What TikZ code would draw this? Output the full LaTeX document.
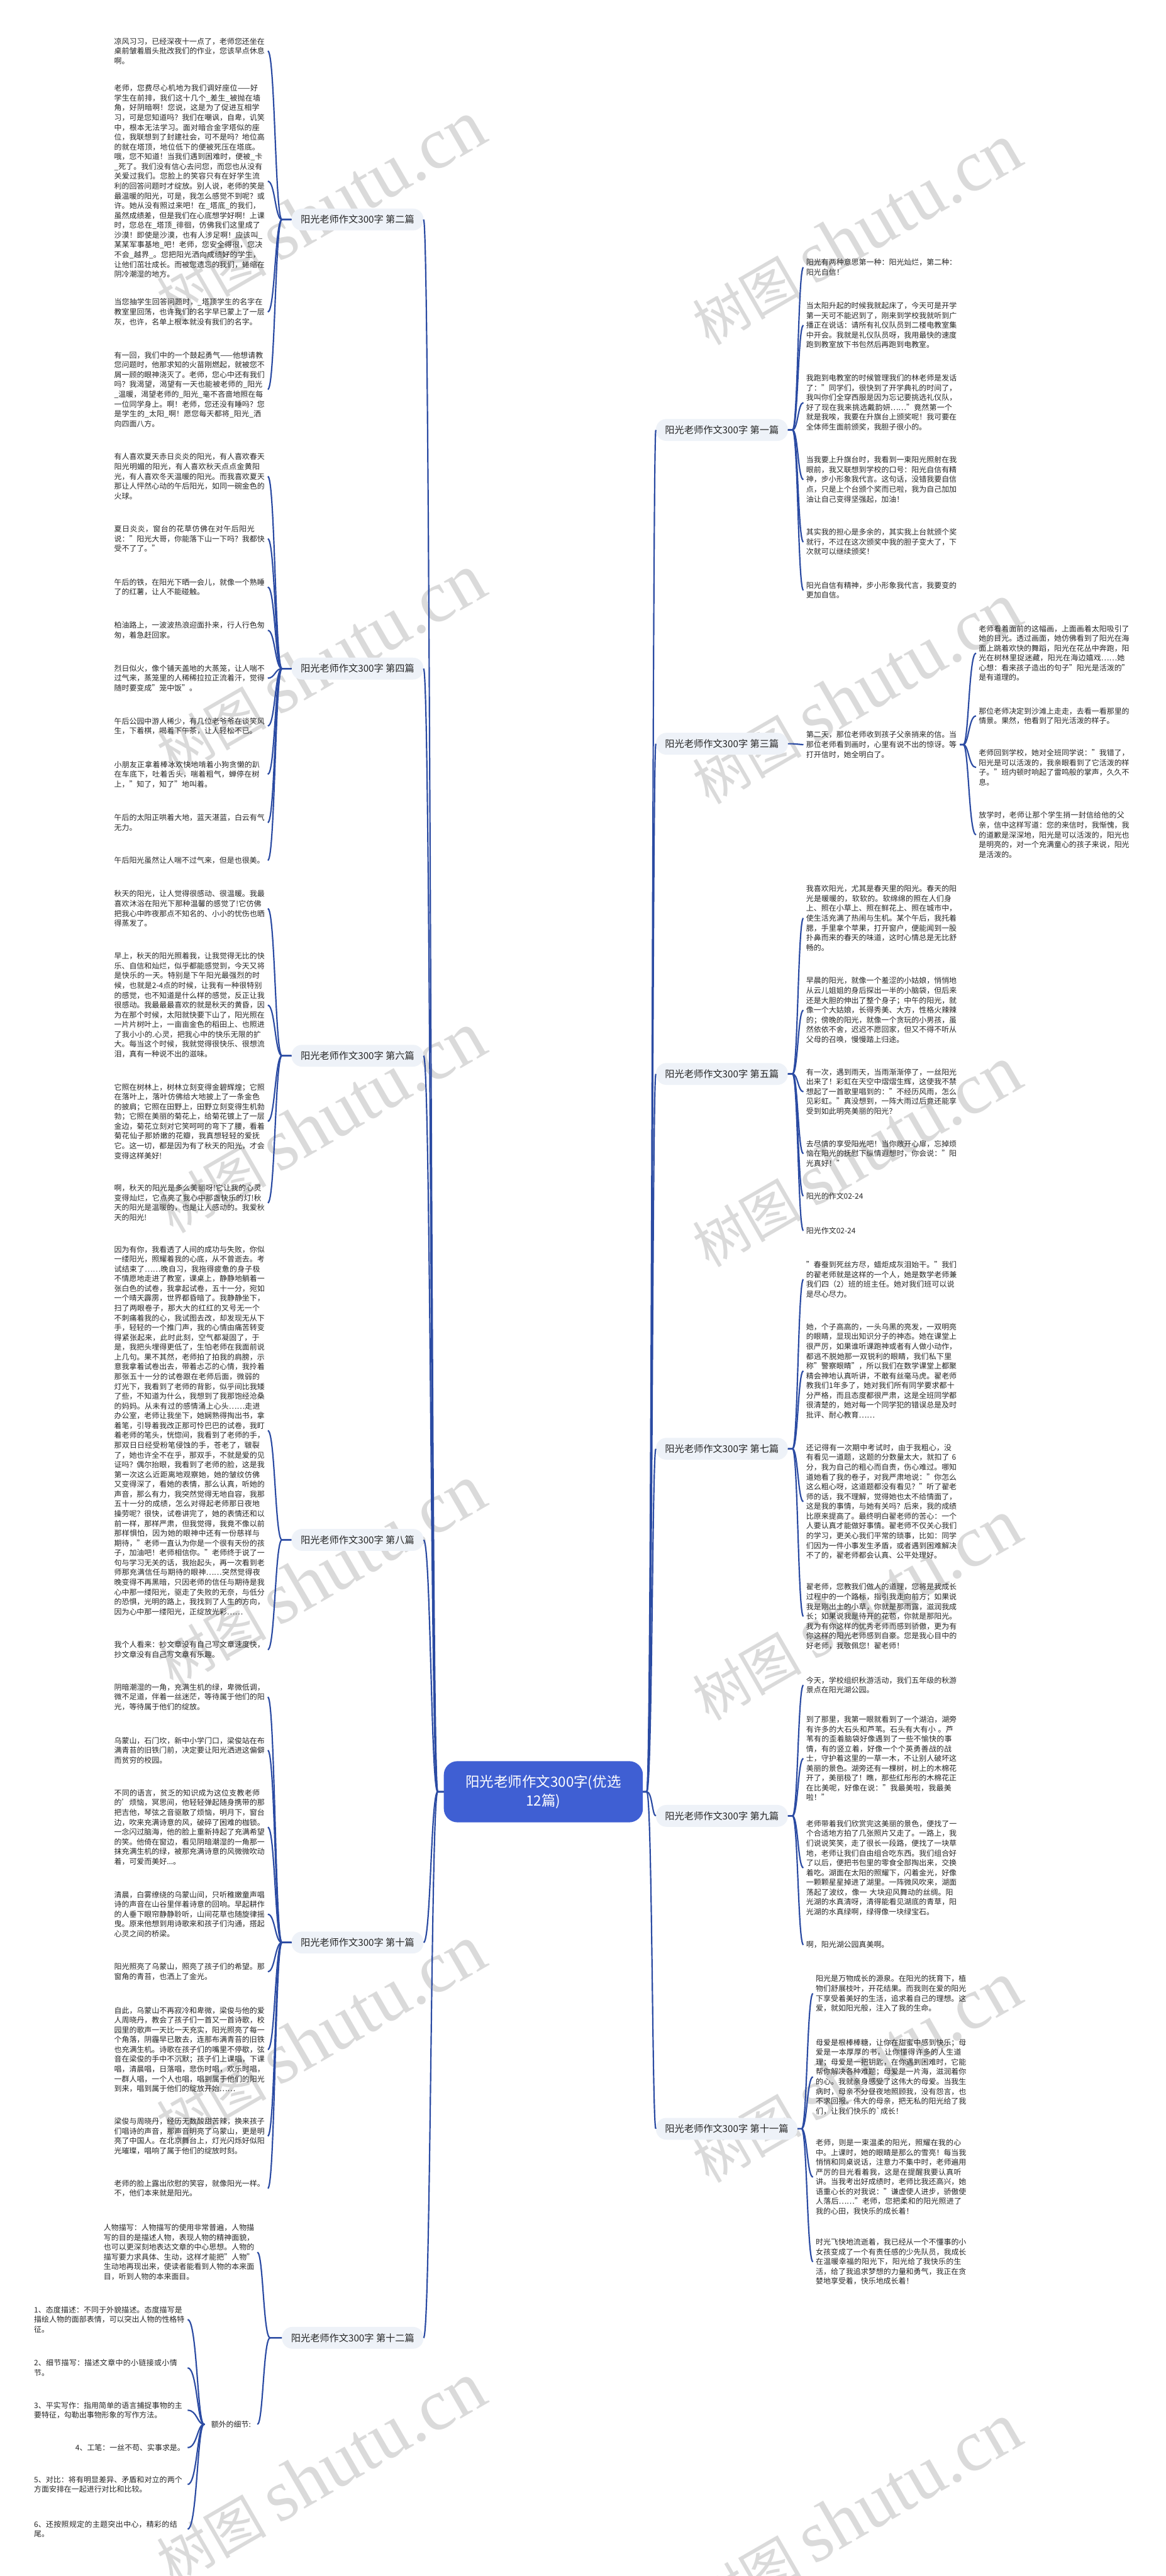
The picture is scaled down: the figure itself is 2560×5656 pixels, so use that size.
\documentclass[tikz,border=0pt]{standalone}
\usepackage{fontspec}
\setmainfont{Noto Sans CJK SC}
\newfontfamily\wmlat{Liberation Serif}
\usetikzlibrary{calc}
\XeTeXlinebreaklocale "zh"
\XeTeXlinebreakskip=0pt plus 1pt
\definecolor{cline}{HTML}{2B4BA3}
\definecolor{cfill}{HTML}{3F5FD3}
\definecolor{lfill}{HTML}{EEF2F8}
\definecolor{wmc}{HTML}{DADADA}
\definecolor{txt}{HTML}{262626}
\newcommand\ctext{\fontsize{16.5}{21.5}\selectfont}
\newcommand\ltext{\fontsize{21}{26}\selectfont}
\newcommand\mtext{\fontsize{31}{42}\selectfont}
\newcommand\wtext{\fontsize{120}{125}\selectfont}
\newcommand\wltext{\fontsize{160}{165}\selectfont}
\tikzset{
  conn/.style={draw=cline, line width=3pt},
  lc/.style={anchor=east, text width=331pt, align=left, inner xsep=6pt, inner ysep=0pt, font=\ctext, text=txt},
  lcs/.style={anchor=east, align=left, inner xsep=6pt, inner ysep=0pt, font=\ctext, text=txt},
  rc/.style={anchor=west, text width=331pt, align=left, inner xsep=6pt, inner ysep=0pt, font=\ctext, text=txt},
  rcs/.style={anchor=west, align=left, inner xsep=6pt, inner ysep=0pt, font=\ctext, text=txt},
  blab/.style={fill=lfill, rounded corners=23pt, minimum height=48pt, inner xsep=20pt, font=\ltext, text=txt},
  lblab/.style={blab, anchor=east},
  rblab/.style={blab, anchor=west},
  cnode/.style={fill=cfill, rounded corners=30pt, inner xsep=48pt, inner ysep=30pt, font=\mtext, text=white, align=center},
  wmark/.style={text=wmc, rotate=30, font=\wtext, inner sep=0pt}
}
\newcommand\brL[3]{\draw[conn] (#1.west) -- ($(#3 |- #1.west)+(15,0)$) .. controls (#3 |- #1.west) and (#3 |- #2.east) .. (#2.east);}
\newcommand\brR[3]{\draw[conn] (#1.east) -- ($(#3 |- #1.east)+(-12,0)$) .. controls (#3 |- #1.east) and (#3 |- #2.west) .. (#2.west);}
\begin{document}
\begin{tikzpicture}[x=1pt,y=-1pt]
\useasboundingbox (0,0) rectangle (2560,5656);
\fill[white] (0,0) rectangle (2560,5656);
% watermarks
\foreach \wx/\wy [count=\i] in {704/465, 704/1460, 704/2465, 704/3460, 704/4470, 704/5430, 1880/515, 1880/1523, 1880/2540, 1880/3535, 1880/4550, 1880/5520}{
  \node[wmark] (wm\i) at (\wx,\wy) {树图 {\wmlat\wltext shutu.cn}};
}
% trunks
\coordinate (TL) at (604,0);
\coordinate (TL12) at (578,0);
\coordinate (TLs) at (433,0);
\coordinate (TR) at (1752,0);
\coordinate (TR11) at (1772,0);
\coordinate (TR3) at (2127,0);
\coordinate (TCL) at (946,0);
\coordinate (TCR) at (1432,0);
% center
\node[cnode] (C) at (1193,3934) {阳光老师作文300字(优选\\12篇)};
% branch labels
\node[lblab] (L2) at (930,482) {阳光老师作文300字 第二篇};
\node[lblab] (L4) at (930,1468) {阳光老师作文300字 第四篇};
\node[lblab] (L6) at (930,2318) {阳光老师作文300字 第六篇};
\node[lblab] (L8) at (930,3381) {阳光老师作文300字 第八篇};
\node[lblab] (L10) at (930,4265) {阳光老师作文300字 第十篇};
\node[lblab] (L12) at (930,5133) {阳光老师作文300字 第十二篇};
\node[rblab] (R1) at (1440,944) {阳光老师作文300字 第一篇};
\node[rblab] (R3) at (1440,1633) {阳光老师作文300字 第三篇};
\node[rblab] (R5) at (1440,2358) {阳光老师作文300字 第五篇};
\node[rblab] (R7) at (1440,3181) {阳光老师作文300字 第七篇};
\node[rblab] (R9) at (1440,3987) {阳光老师作文300字 第九篇};
\node[rblab] (R11) at (1440,4674) {阳光老师作文300字 第十一篇};
% ---------- left children
\node[lc] (l2a) at (588,112) {凉风习习，已经深夜十一点了，老师您还坐在桌前皱着眉头批改我们的作业，您该早点休息啊。};
\node[lc] (l2b) at (588,398) {老师，您费尽心机地为我们调好座位——好学生在前排，我们这十几个\_差生\_被抛在墙角，好阴暗啊！您说，这是为了促进互相学习，可是您知道吗？我们在嘲讽，自卑，讥笑中，根本无法学习。面对暗合金字塔似的座位，我联想到了封建社会，可不是吗？地位高的就在塔顶，地位低下的便被死压在塔底。哦，您不知道！当我们遇到困难时，便被\_卡\_死了。我们没有信心去问您，而您也从没有关爱过我们。您脸上的笑容只有在好学生流利的回答问题时才绽放。别人说，老师的笑是最温暖的阳光，可是，我怎么感觉不到呢？或许。她从没有照过来吧！在\_塔底\_的我们，虽然成绩差，但是我们在心底想学好啊！上课时，您总在\_塔顶\_徘徊，仿佛我们这里成了沙漠！即使是沙漠，也有人涉足啊！应该叫\_某某军事基地\_吧！老师，您安全得很，您决不会\_越界\_。您把阳光洒向成绩好的学生，让他们茁壮成长。而被您遗忘的我们，蜷缩在阴冷潮湿的地方。};
\node[lc] (l2c) at (588,685) {当您抽学生回答问题时，\_塔顶学生的名字在教室里回荡，也许我们的名字早已蒙上了一层灰，也许，名单上根本就没有我们的名字。};
\node[lc] (l2d) at (588,855) {有一回，我们中的一个鼓起勇气——他想请教您问题时，他那求知的火苗刚燃起，就被您不屑一顾的眼神浇灭了。老师，您心中还有我们吗？我渴望，渴望有一天也能被老师的\_阳光\_温暖，渴望老师的\_阳光\_毫不吝啬地照在每一位同学身上。啊！老师，您还没有睡吗？您是学生的\_太阳\_啊！愿您每天都将\_阳光\_洒向四面八方。};
\node[lc] (l4a) at (588,1046) {有人喜欢夏天赤日炎炎的阳光，有人喜欢春天阳光明媚的阳光，有人喜欢秋天点点金黄阳光，有人喜欢冬天温暖的阳光。而我喜欢夏天那让人怦然心动的午后阳光，如同一碗金色的火球。};
\node[lc] (l4b) at (588,1183) {夏日炎炎，窗台的花草仿佛在对午后阳光说："阳光大哥，你能落下山一下吗？我都快受不了了。"};
\node[lc] (l4c) at (588,1289) {午后的铁，在阳光下晒一会儿，就像一个熟睡了的红薯，让人不能碰触。};
\node[lc] (l4d) at (588,1384) {柏油路上，一波波热浪迎面扑来，行人行色匆匆，着急赶回家。};
\node[lc] (l4e) at (588,1489) {烈日似火，像个铺天盖地的大蒸笼，让人喘不过气来，蒸笼里的人稀稀拉拉正流着汗，觉得随时要变成"笼中饭"。};
\node[lc] (l4f) at (588,1594) {午后公园中游人稀少，有几位老爷爷在谈笑风生，下着棋，喝着下午茶，让人轻松不已。};
\node[lc] (l4g) at (588,1700) {小朋友正拿着棒冰欢快地啃着小狗贪懒的趴在车底下，吐着舌头，喘着粗气，蝉停在树上，"知了，知了"地叫着。};
\node[lc] (l4h) at (588,1806) {午后的太阳正哄着大地，蓝天湛蓝，白云有气无力。};
\node[lc] (l4i) at (588,1889) {午后阳光虽然让人喘不过气来，但是也很美。};
\node[lc] (l6a) at (588,1995) {秋天的阳光，让人觉得很感动、很温暖。我最喜欢沐浴在阳光下那种温馨的感觉了!它仿佛把我心中昨夜那点不知名的、小小的忧伤也晒得蒸发了。};
\node[lc] (l6b) at (588,2207) {早上，秋天的阳光照着我，让我觉得无比的快乐、自信和灿烂，似乎都能感觉到，今天又将是快乐的一天。特别是下午阳光最强烈的时候，也就是2-4点的时候，让我有一种很特别的感觉，也不知道是什么样的感觉，反正让我很感动。我最最最喜欢的就是秋天的黄昏，因为在那个时候，太阳就快要下山了，阳光照在一片片树叶上，一亩亩金色的稻田上、也照进了我小小的.心灵，把我心中的快乐无限的扩大。每当这个时候，我就觉得很快乐、很想流泪，真有一种说不出的滋味。};
\node[lc] (l6c) at (588,2462) {它照在树林上，树林立刻变得金碧辉煌；它照在落叶上，落叶仿佛给大地披上了一条金色的披肩；它照在田野上，田野立刻变得生机勃勃；它照在美丽的菊花上，给菊花镀上了一层金边，菊花立刻对它笑呵呵的弯下了腰，看着菊花仙子那娇嫩的花瓣，我真想轻轻的爱抚它。这一切，都是因为有了秋天的阳光，才会变得这样美好!};
\node[lc] (l6d) at (588,2641) {啊，秋天的阳光是多么美丽呀!它让我的心灵变得灿烂，它点亮了我心中那盏快乐的灯!秋天的阳光是温暖的，也是让人感动的。我爱秋天的阳光!};
\node[lc] (l8a) at (588,3141) {因为有你，我看透了人间的成功与失败，你似一缕阳光，照耀着我的心底，从不曾逝去。考试结束了……晚自习，我拖得疲惫的身子极不情愿地走进了教室，课桌上，静静地躺着一张白色的试卷，我拿起试卷，五十一分，宛如一个晴天霹雳，世界都昏暗了。我静静坐下，扫了两眼卷子，那大大的红红的叉号无一个不刺痛着我的心，我试图去改，却发现无从下手，轻轻的一个推门声，我的心情由痛苦转变得紧张起来，此时此刻，空气都凝固了，于是，我把头埋得更低了，生怕老师在我面前说上几句。果不其然，老师拍了拍我的肩膀，示意我拿着试卷出去，带着忐忑的心情，我拎着那张五十一分的试卷跟在老师后面，微弱的灯光下，我看到了老师的背影，似乎间比我矮了些，不知道为什么，我想到了我那饱经沧桑的妈妈。从未有过的感情涌上心头……走进办公室，老师让我坐下，她娴熟得掏出书，拿着笔，引导着我改正那可怜巴巴的试卷，我盯着老师的笔头，恍惚间，我看到了老师的手，那双日日经受粉笔侵蚀的手，苍老了，皲裂了，她也许全不在乎，那双手，不就是爱的见证吗？偶尔抬眼，我看到了老师的脸，这是我第一次这么近距离地观察她，她的皱纹仿佛又变得深了，看她的表情，那么认真，听她的声音，那么有力，我突然觉得无地自容，我那五十一分的成绩，怎么对得起老师那日夜地操劳呢？很快，试卷讲完了，她的表情还和以前一样，那样严肃，但我觉得，我竟不像以前那样惧怕，因为她的眼神中还有一份慈祥与期待，"老师一直认为你是一个很有天份的孩子，加油吧！老师相信你。"老师终于说了一句与学习无关的话，我抬起头，再一次看到老师那充满信任与期待的眼神……突然觉得夜晚变得不再黑暗，只因老师的信任与期待是我心中那一缕阳光，驱走了失败的无奈，与低分的恐惧，光明的路上，我找到了人生的方向，因为心中那一缕阳光，正绽放光彩……};
\node[lc] (l8b) at (588,3622) {我个人看来：抄文章没有自己写文章速度快，抄文章没有自己写文章有乐趣。};
\node[lc] (l10a) at (588,3726) {阴暗潮湿的一角，充满生机的绿，卑微低调，微不足道，伴着一丝迷茫，等待属于他们的阳光，等待属于他们的绽放。};
\node[lc] (l10b) at (588,3843) {乌蒙山，石门坎，新中小学门口，梁俊站在布满青苔的旧铁门前，决定要让阳光洒进这偏僻而贫穷的校园。};
\node[lc] (l10c) at (588,4012) {不同的语言，贫乏的知识成为这位支教老师的'烦恼，冥思间，他轻轻弹起随身携带的那把吉他，琴弦之音驱散了烦恼，明月下，窗台边，吹来充满诗意的风，破碎了困难的枷锁。一念闪过脑海，他的脸上重新持起了充满希望的笑。他倚在窗边，看见阴暗潮湿的一角那一抹充满生机的绿，被那充满诗意的风微微吹动着，可爱而美好...。};
\node[lc] (l10d) at (588,4203) {清晨，白雾缭绕的乌蒙山间，只听稚嫩童声唱诗的声音在山谷里伴着诗意的回响。早起耕作的人垂下眼帘静静聆听，山间花草也随旋律摇曳。原来他想到用诗歌来和孩子们沟通，搭起心灵之间的桥梁。};
\node[lc] (l10e) at (588,4329) {阳光照亮了乌蒙山，照亮了孩子们的希望。那窗角的青苔，也洒上了金光。};
\node[lc] (l10f) at (588,4500) {自此，乌蒙山不再寂冷和卑微，梁俊与他的爱人周晓丹，教会了孩子们一首又一首诗歌，校园里的歌声一天比一天充实，阳光照亮了每一个角落，阴霾早已散去，连那布满青苔的旧铁也充满生机。诗歌在孩子们的嘴里不停歇，弦音在梁俊的手中不沉默；孩子们上课唱，下课唱，清晨唱，日落唱，悲伤时唱，欢乐时唱，一群人唱，一个人也唱，唱到属于他们的阳光到来，唱到属于他们的绽放开始……};
\node[lc] (l10g) at (588,4690) {梁俊与周晓丹，经历无数酸甜苦辣，换来孩子们唱诗的声音，那声音明亮了乌蒙山，更是明亮了中国人。在北京舞台上，灯光闪烁好似阳光璀璨，唱响了属于他们的绽放时刻。};
\node[lc] (l10h) at (588,4805) {老师的脸上露出欣慰的笑容，就像阳光一样。不，他们本来就是阳光。};
\node[lc] (l12a) at (565,4945) {人物描写：人物描写的使用非常普遍，人物描写的目的是描述人物，表现人物的精神面貌，也可以更深刻地表达文章的中心思想。人物的描写要力求具体、生动，这样才能把"人物"生动地再现出来，使读者能看到人物的本来面目，听到人物的本来面目。};
\node[lcs, inner xsep=14pt] (l12b) at (565,5323) {额外的细节:};
\node[lc] (s1) at (412,5093) {1、态度描述：不同于外貌描述。态度描写是描绘人物的面部表情，可以突出人物的性格特征。};
\node[lc] (s2) at (412,5199) {2、细节描写：描述文章中的小链接或小情节。};
\node[lc] (s3) at (412,5292) {3、平实写作：指用简单的语言捕捉事物的主要特征，勾勒出事物形象的写作方法。};
\node[lcs] (s4) at (412,5374) {4、工笔：一丝不苟、实事求是。};
\node[lc] (s5) at (412,5455) {5、对比：将有明显差异、矛盾和对立的两个方面安排在一起进行对比和比较。};
\node[lc] (s6) at (412,5553) {6、还按照规定的主题突出中心，精彩的结尾。};
% ---------- right children
\node[rc] (r1a) at (1764,587) {阳光有两种意思第一种：阳光灿烂，第二种：阳光自信！};
\node[rc] (r1b) at (1764,714) {当太阳升起的时候我就起床了，今天可是开学第一天可不能迟到了，刚来到学校我就听到广播正在说话：请所有礼仪队员到二楼电教室集中开会。我就是礼仪队员呀，我用最快的速度跑到教室放下书包然后再跑到电教室。};
\node[rc] (r1c) at (1764,884) {我跑到电教室的时候管理我们的林老师是发话了："同学们，很快到了开学典礼的时间了，我叫你们全穿西服是因为忘记要挑选礼仪队，好了现在我来挑选戴韵妍……"竟然第一个就是我唉，我要在升旗台上颁奖呢！我可要在全体师生面前颁奖，我胆子很小的。};
\node[rc] (r1d) at (1764,1053) {当我要上升旗台时，我看到一束阳光照射在我眼前，我又联想到学校的口号：阳光自信有精神，步小形象我代言。这句话，没错我要自信点，只是上个台颁个奖而已啦，我为自己加加油让自己变得坚强起，加油！};
\node[rc] (r1e) at (1764,1190) {其实我的担心是多余的，其实我上台就颁个奖就行，不过在这次颁奖中我的胆子变大了，下次就可以继续颁奖！};
\node[rc] (r1f) at (1764,1296) {阳光自信有精神，步小形象我代言，我要变的更加自信。};
\node[rc] (r3) at (1764,1635) {第二天，那位老师收到孩子父亲捎来的信。当那位老师看到画时，心里有说不出的惊讶。等打开信时，她全明白了。};
\node[rc] (r3a) at (2143,1434) {老师看着面前的这幅画，上面画着太阳吸引了她的目光。透过画面，她仿佛看到了阳光在海面上跳着欢快的舞蹈，阳光在花丛中奔跑，阳光在树林里捉迷藏，阳光在海边嬉戏……她心想：看来孩子造出的句子"阳光是活泼的"是有道理的。};
\node[rc] (r3b) at (2143,1572) {那位老师决定到沙滩上走走，去看一看那里的情景。果然，他看到了阳光活泼的样子。};
\node[rc] (r3c) at (2143,1685) {老师回到学校，她对全班同学说："我错了，阳光是可以活泼的，我亲眼看到了它活泼的样子。"班内顿时响起了雷鸣般的掌声，久久不息。};
\node[rc] (r3d) at (2143,1833) {放学时，老师让那个学生捎一封信给他的父亲，信中这样写道：您的来信时，我惭愧，我的道歉是深深地，阳光是可以活泼的，阳光也是明亮的，对一个充满童心的孩子来说，阳光是活泼的。};
\node[rc] (r5a) at (1764,2016) {我喜欢阳光，尤其是春天里的阳光。春天的阳光是暖暖的，软软的。软绵绵的照在人们身上、照在小草上、照在鲜花上、照在城市中，使生活充满了热闹与生机。某个午后，我托着腮，手里拿个苹果，打开窗户，便能闻到一股扑鼻而来的春天的味道，这时心情总是无比舒畅的。};
\node[rc] (r5b) at (1764,2218) {早晨的阳光，就像一个羞涩的小姑娘，悄悄地从云儿姐姐的身后探出一半的小脑袋，但后来还是大胆的伸出了整个身子；中午的阳光，就像一个大姑娘，长得秀美、大方，性格火辣辣的；傍晚的阳光，就像一个贪玩的小男孩，虽然依依不舍，迟迟不愿回家，但又不得不听从父母的召唤，慢慢踏上归途。};
\node[rc] (r5c) at (1764,2397) {有一次，遇到雨天，当雨渐渐停了，一丝阳光出来了！彩虹在天空中熠熠生辉，这使我不禁想起了一首歌里唱到的："不经历风雨，怎么见彩虹。"真没想到，一阵大雨过后竟还能享受到如此明亮美丽的阳光？};
\node[rc] (r5d) at (1764,2533) {去尽情的享受阳光吧！当你敞开心扉，忘掉烦恼在阳光的抚慰下纵情遐想时，你会说："阳光真好！"};
\node[rcs] (r5e) at (1764,2626) {阳光的作文02-24};
\node[rcs] (r5f) at (1764,2702) {阳光作文02-24};
\node[rc] (r7a) at (1764,2809) {"春蚕到死丝方尽，蜡炬成灰泪始干。"我们的翟老师就是这样的一个人，她是数学老师兼我们四（2）班的班主任。她对我们班可以说是尽心尽力。};
\node[rc] (r7b) at (1764,3010) {她，个子高高的，一头乌黑的亮发，一双明亮的眼睛，显现出知识分子的神态。她在课堂上很严厉，如果谁听课跑神或者有人做小动作，都逃不脱她那一双锐利的眼睛，我们私下里称"警察眼睛"，所以我们在数学课堂上都聚精会神地认真听讲，不敢有丝毫马虎。翟老师教我们1年多了，她对我们所有同学要求都十分严格，而且态度都很严肃，这是全班同学都很清楚的，她对每一个同学犯的错误总是及时批评、耐心教育……};
\node[rc] (r7c) at (1764,3297) {还记得有一次期中考试时，由于我粗心，没有看见一道题，这题的分数量太大，就扣了 6 分，我为自己的粗心而自责，伤心难过。哪知道她看了我的卷子，对我严肃地说："你怎么这么粗心呀，这道题都没有看见？"听了翟老师的话，我不理解，觉得她也太不给情面了，这是我的事情，与她有关吗？后来，我的成绩比原来提高了。最终明白翟老师的苦心：一个人要认真才能做好事情。翟老师不仅关心我们的学习，更关心我们平常的琐事，比如：同学们因为一件小事发生矛盾，或者遇到困难解决不了的，翟老师都会认真、公平处理好。};
\node[rc] (r7d) at (1764,3549) {翟老师，您教我们做人的道理，您将是我成长过程中的一个路标，指引我走向前方；如果说我是刚出土的小草，你就是那雨露，滋润我成长；如果说我是待开的花苞，你就是那阳光。我为有你这样的优秀老师而感到骄傲，更为有你这样的阳光老师感到自豪。您是我心目中的好老师，我敬佩您！翟老师！};
\node[rc] (r9a) at (1764,3700) {今天，学校组织秋游活动，我们五年级的秋游景点在阳光湖公园。};
\node[rc] (r9b) at (1764,3861) {到了那里，我第一眼就看到了一个湖泊，湖旁有许多的大石头和芦苇。石头有大有小 。芦苇有的歪着脑袋好像遇到了一些不愉快的事情，有的竖立着，好像一个个英勇善战的战士，守护着这里的一草一木，不让别人破坏这美丽的景色。湖旁还有一棵树，树上的木棉花开了，美丽极了！瞧，那些红彤彤的木棉花正在比美呢，好像在说："我最美啦，我最美啦！"};
\node[rc] (r9c) at (1764,4101) {老师带着我们欣赏完这美丽的景色，便找了一个合适地方拍了几张照片又走了。一路上，我们说说笑笑，走了很长一段路，便找了一块草地，老师让我们自由组合吃东西。我们组合好了以后，便把书包里的零食全部掏出来，交换着吃。湖面在太阳的照耀下，闪着金光，好像一颗颗星星掉进了湖里。一阵微风吹来，湖面荡起了波纹，像一 大块迎风舞动的丝绸。阳光湖的水真清呀，清得能看见湖底的青草，阳光湖的水真绿啊，绿得像一块绿宝石。};
\node[rcs] (r9d) at (1764,4270) {啊，阳光湖公园真美啊。};
\node[rc] (r11a) at (1785,4377) {阳光是万物成长的源泉。在阳光的抚育下，植物们舒展枝叶，开花结果。而我则在爱的阳光下享受着美好的生活，追求着自己的理想。这爱，就如阳光般，注入了我的生命。};
\node[rc] (r11b) at (1785,4560) {母爱是根棒棒糖，让你在甜蜜中感到快乐；母爱是一本厚厚的书，让你懂得许多的人生道理；母爱是一把钥匙，在你遇到困难时，它能帮你解决各种难题；母爱是一片海，滋润着你的心。我就亲身感受了这伟大的母爱。当我生病时，母亲不分昼夜地照顾我，没有怨言，也不求回报。伟大的母亲，把无私的阳光给了我们，让我们快乐的\textasciigrave 成长！};
\node[rc] (r11c) at (1785,4780) {老师，则是一束温柔的阳光，照耀在我的心中。上课时，她的眼睛是那么的雪亮！每当我悄悄和同桌说话，注意力不集中时，老师遍用严厉的目光看着我，这是在提醒我要认真听讲。当我考出好成绩时，老师比我还高兴，她语重心长的对我说："谦虚使人进步，骄傲使人落后……"老师，您把柔和的阳光照进了我的心田，我快乐的成长着！};
\node[rc] (r11d) at (1785,4966) {时光飞快地流逝着，我已经从一个不懂事的小女孩变成了一个有责任感的少先队员，我成长在温暖幸福的阳光下，阳光给了我快乐的生活，给了我追求梦想的力量和勇气，我正在贪婪地享受着，快乐地成长着！};
% ---------- connectors: center to branches
\foreach \b in {L2,L4,L6,L8,L10,L12}{\brL{C}{\b}{TCL}}
\foreach \b in {R1,R3,R5,R7,R9,R11}{\brR{C}{\b}{TCR}}
% left branches
\foreach \c in {l2a,l2b,l2c,l2d}{\brL{L2}{\c}{TL}}
\foreach \c in {l4a,l4b,l4c,l4d,l4e,l4f,l4g,l4h,l4i}{\brL{L4}{\c}{TL}}
\foreach \c in {l6a,l6b,l6c,l6d}{\brL{L6}{\c}{TL}}
\foreach \c in {l8a,l8b}{\brL{L8}{\c}{TL}}
\foreach \c in {l10a,l10b,l10c,l10d,l10e,l10f,l10g,l10h}{\brL{L10}{\c}{TL}}
\foreach \c in {l12a,l12b}{\brL{L12}{\c}{TL12}}
\foreach \c in {s1,s2,s3,s4,s5,s6}{\brL{l12b}{\c}{TLs}}
% right branches
\foreach \c in {r1a,r1b,r1c,r1d,r1e,r1f}{\brR{R1}{\c}{TR}}
\brR{R3}{r3}{TR}
\foreach \c in {r3a,r3b,r3c,r3d}{\brR{r3}{\c}{TR3}}
\foreach \c in {r5a,r5b,r5c,r5d,r5e,r5f}{\brR{R5}{\c}{TR}}
\foreach \c in {r7a,r7b,r7c,r7d}{\brR{R7}{\c}{TR}}
\foreach \c in {r9a,r9b,r9c,r9d}{\brR{R9}{\c}{TR}}
\foreach \c in {r11a,r11b,r11c,r11d}{\brR{R11}{\c}{TR11}}
\end{tikzpicture}
\end{document}
